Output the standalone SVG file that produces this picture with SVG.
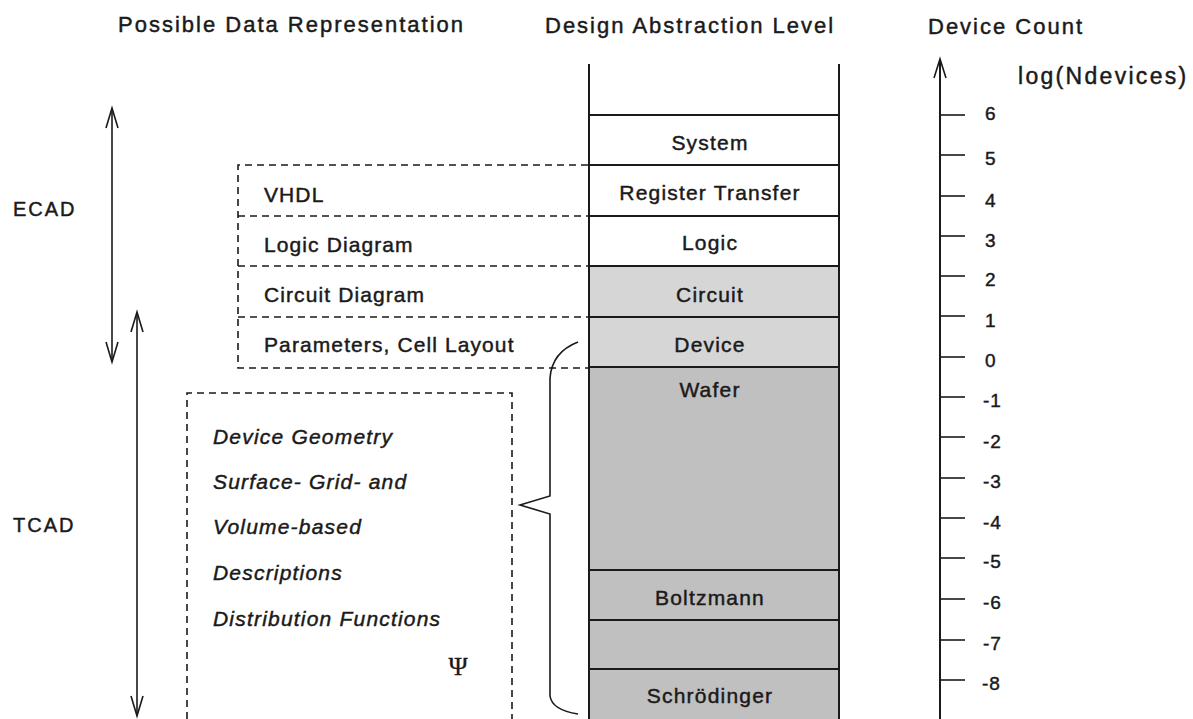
<svg xmlns="http://www.w3.org/2000/svg" width="1193" height="719" viewBox="0 0 1193 719">
  <style>
    text { font-family: "Liberation Sans", Arial, sans-serif; fill: #1a1a1a; stroke: #1a1a1a; stroke-width: 0.45; }
    .hdr { font-size: 22px; letter-spacing: 2px; }
    .axt { font-size: 23px; letter-spacing: 2.3px; }
    .lvl { font-size: 21px; letter-spacing: 1.2px; text-anchor: middle; }
    .rep { font-size: 21px; letter-spacing: 1.1px; }
    .ital { font-size: 21px; letter-spacing: 1.2px; font-style: italic; }
    .num { font-size: 19px; letter-spacing: 1px; }
    .side { font-size: 20px; letter-spacing: 2px; }
    .psi { font-family: "Liberation Serif", "DejaVu Serif", serif; font-size: 26px; text-anchor: middle; stroke-width: 0.3; }
    .solid { stroke: #1a1a1a; stroke-width: 2; fill: none; }
    .thin { stroke: #1a1a1a; stroke-width: 1.6; fill: none; }
    .dash { stroke: #1a1a1a; stroke-width: 1.6; fill: none; stroke-dasharray: 7 5; }
    .light { fill: #d6d6d6; }
    .dark { fill: #c0c0c0; }
  </style>

  <!-- column headings -->
  <g id="headings">
    <text class="hdr" x="118" y="32">Possible Data Representation</text>
    <text class="hdr" x="545" y="33">Design Abstraction Level</text>
    <text class="hdr" x="928" y="34">Device Count</text>
  </g>

  <!-- abstraction level column -->
  <g id="levels">
    <rect class="light" x="589" y="266" width="250" height="101"/>
    <rect class="dark" x="589" y="367" width="250" height="352"/>
    <line class="solid" x1="589" y1="64" x2="589" y2="719"/>
    <line class="solid" x1="839" y1="64" x2="839" y2="719"/>
    <line class="solid" x1="589" y1="115" x2="839" y2="115"/>
    <line class="solid" x1="589" y1="165" x2="839" y2="165"/>
    <line class="solid" x1="589" y1="216" x2="839" y2="216"/>
    <line class="solid" x1="589" y1="266" x2="839" y2="266"/>
    <line class="solid" x1="589" y1="317" x2="839" y2="317"/>
    <line class="solid" x1="589" y1="367" x2="839" y2="367"/>
    <line class="solid" x1="589" y1="570" x2="839" y2="570"/>
    <line class="solid" x1="589" y1="620" x2="839" y2="620"/>
    <line class="solid" x1="589" y1="669" x2="839" y2="669"/>
    <text class="lvl" x="710" y="150">System</text>
    <text class="lvl" x="710" y="200">Register Transfer</text>
    <text class="lvl" x="710" y="250">Logic</text>
    <text class="lvl" x="710" y="302">Circuit</text>
    <text class="lvl" x="710" y="352">Device</text>
    <text class="lvl" x="710" y="397">Wafer</text>
    <text class="lvl" x="710" y="605">Boltzmann</text>
    <text class="lvl" x="710" y="703">Schrödinger</text>
  </g>

  <!-- ECAD data representations -->
  <g id="ecad-box">
    <path class="dash" d="M588 165 H238 V368 H588"/>
    <line class="dash" x1="238" y1="216" x2="588" y2="216"/>
    <line class="dash" x1="238" y1="266" x2="588" y2="266"/>
    <line class="dash" x1="238" y1="317" x2="588" y2="317"/>
    <text class="rep" x="264" y="202">VHDL</text>
    <text class="rep" x="264" y="252">Logic Diagram</text>
    <text class="rep" x="264" y="302">Circuit Diagram</text>
    <text class="rep" x="264" y="352">Parameters, Cell Layout</text>
  </g>

  <!-- TCAD data representations -->
  <g id="tcad-box">
    <path class="dash" d="M187 719 V393 H512 V719"/>
    <text class="ital" x="213" y="444">Device Geometry</text>
    <text class="ital" x="213" y="489">Surface- Grid- and</text>
    <text class="ital" x="213" y="534">Volume-based</text>
    <text class="ital" x="213" y="580">Descriptions</text>
    <text class="ital" x="213" y="626">Distribution Functions</text>
    <text class="psi" x="458" y="675">Ψ</text>
  </g>

  <!-- ECAD / TCAD ranges -->
  <g id="ranges">
    <text class="side" x="13" y="216">ECAD</text>
    <text class="side" x="13" y="532">TCAD</text>
  </g>

  <!-- connectors: range arrows, brace, device count axis -->
  <g id="connectors">
    <line class="thin" x1="112" y1="109" x2="112" y2="361"/>
    <path class="thin" d="M106 128 L112 108 L118 128"/>
    <path class="thin" d="M106 342 L112 362 L118 342"/>
    <line class="thin" x1="137" y1="313" x2="137" y2="715"/>
    <path class="thin" d="M131 332 L137 312 L143 332"/>
    <path class="thin" d="M131 696 L137 716 L143 696"/>

    <path class="thin" d="M578 342 Q552 352 550 378 V496 L520 505 L550 514 V696 Q552 710 578 714"/>

    <line class="solid" x1="940" y1="60" x2="940" y2="719"/>
    <path class="thin" d="M934 78 L940 59 L946 78"/>
    <text class="axt" x="1018" y="84">log(Ndevices)</text>
  </g>

  <!-- axis ticks and labels -->
  <g id="axis-ticks">
    <g class="thin">
      <line x1="940" y1="115" x2="965" y2="115"/>
      <line x1="940" y1="155" x2="965" y2="155"/>
      <line x1="940" y1="196" x2="965" y2="196"/>
      <line x1="940" y1="236" x2="965" y2="236"/>
      <line x1="940" y1="276" x2="965" y2="276"/>
      <line x1="940" y1="316" x2="965" y2="316"/>
      <line x1="940" y1="357" x2="965" y2="357"/>
      <line x1="940" y1="397" x2="965" y2="397"/>
      <line x1="940" y1="437" x2="965" y2="437"/>
      <line x1="940" y1="478" x2="965" y2="478"/>
      <line x1="940" y1="518" x2="965" y2="518"/>
      <line x1="940" y1="558" x2="965" y2="558"/>
      <line x1="940" y1="599" x2="965" y2="599"/>
      <line x1="940" y1="640" x2="965" y2="640"/>
      <line x1="940" y1="680" x2="965" y2="680"/>
    </g>
    <text class="num" x="985" y="120">6</text>
    <text class="num" x="985" y="165">5</text>
    <text class="num" x="985" y="207">4</text>
    <text class="num" x="985" y="247">3</text>
    <text class="num" x="985" y="286">2</text>
    <text class="num" x="985" y="327">1</text>
    <text class="num" x="985" y="367">0</text>
    <text class="num" x="983" y="407">-1</text>
    <text class="num" x="983" y="448">-2</text>
    <text class="num" x="983" y="488">-3</text>
    <text class="num" x="983" y="529">-4</text>
    <text class="num" x="983" y="568">-5</text>
    <text class="num" x="983" y="609">-6</text>
    <text class="num" x="983" y="650">-7</text>
    <text class="num" x="982" y="690">-8</text>
  </g>
</svg>
